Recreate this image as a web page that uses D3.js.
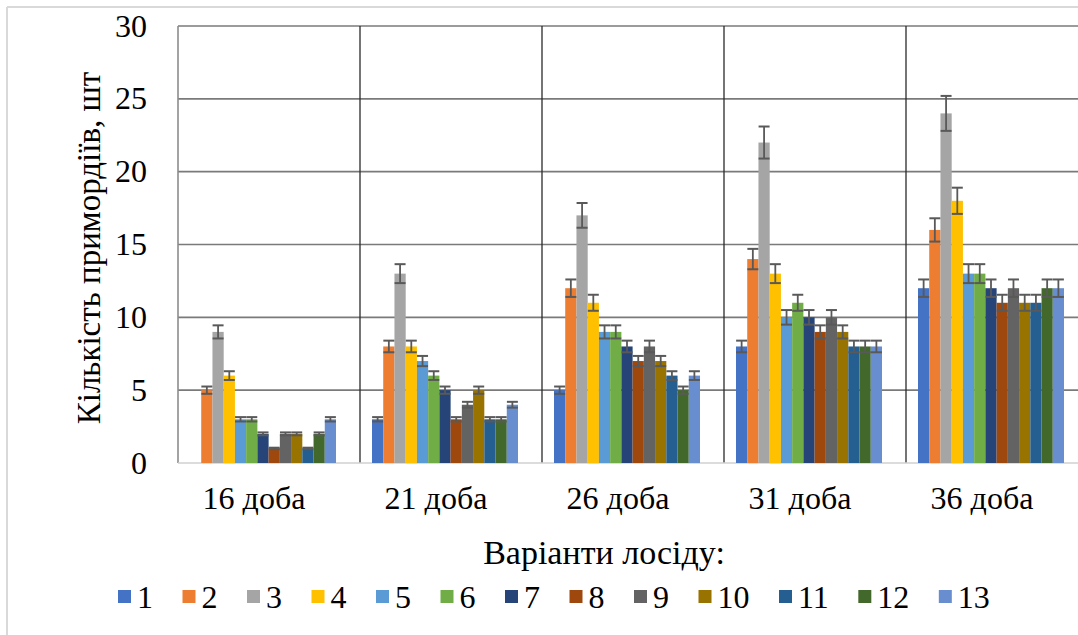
<!DOCTYPE html>
<html>
<head>
<meta charset="utf-8">
<script src="https://cdn.jsdelivr.net/npm/d3@7"></script>
<style>
  html, body { margin: 0; padding: 0; background: #fff; }
  svg { display: block; }
</style>
</head>
<body>
<svg id="chart" width="1078" height="635"></svg>
<script>
// ---- data ----
const categories = ["16 доба", "21 доба", "26 доба", "31 доба", "36 доба"];
const seriesNames = ["1","2","3","4","5","6","7","8","9","10","11","12","13"];
const v1  = [0, 3, 5, 8, 12];
const v2  = [5, 8, 12, 14, 16];
const v3  = [9, 13, 17, 22, 24];
const v4  = [6, 8, 11, 13, 18];
const v5  = [3, 7, 9, 10, 13];
const v6  = [3, 6, 9, 11, 13];
const v7  = [2, 5, 8, 10, 12];
const v8  = [1, 3, 7, 9, 11];
const v9  = [2, 4, 8, 10, 12];
const v10 = [2, 5, 7, 9, 11];
const v11 = [1, 3, 6, 8, 11];
const v12 = [2, 3, 5, 8, 12];
const v13 = [3, 4, 6, 8, 12];
const seriesValues = [v1, v2, v3, v4, v5, v6, v7, v8, v9, v10, v11, v12, v13];
const yTicks = [0, 5, 10, 15, 20, 25, 30];
const errorPercent = 5; // error bars: percentage of value
const colors = ["#4472C4","#ED7D31","#A5A5A5","#FFC000","#5B9BD5","#70AD47",
                "#264478","#9E480E","#636363","#997300","#255E91","#43682B","#698ED0"];
const yTitle = "Кількість примордіїв, шт";
const legendTitle = "Варіанти лосіду:";

// ---- layout ----
const svg = d3.select("#chart");
const plot = { left: 178, right: 1088, top: 26, bottom: 463 };

// outer frame (light)
svg.append("line").attr("x1", 7).attr("x2", 1078).attr("y1", 7).attr("y2", 7)
  .attr("stroke", "#d9d9d9").attr("stroke-width", 2);
svg.append("line").attr("x1", 7).attr("x2", 7).attr("y1", 7).attr("y2", 635)
  .attr("stroke", "#d9d9d9").attr("stroke-width", 2);

const x0 = d3.scaleBand().domain(categories).range([plot.left, plot.right]).padding(0);
const x1 = d3.scaleBand().domain(seriesNames).range([12, 158]).padding(0);
const y = d3.scaleLinear().domain([0, 30]).range([plot.bottom, plot.top]);

// horizontal gridlines
svg.append("g").selectAll("line").data(yTicks.filter(t => t > 0)).join("line")
  .attr("x1", plot.left).attr("x2", plot.right)
  .attr("y1", d => y(d)).attr("y2", d => y(d))
  .attr("stroke", "#7a7a7a").attr("stroke-width", 1.6);

// vertical category gridlines
const bounds = categories.slice(1).map(c => x0(c)).concat([plot.right]);
svg.append("g").selectAll("line").data(bounds).join("line")
  .attr("x1", d => d).attr("x2", d => d)
  .attr("y1", plot.top).attr("y2", plot.bottom)
  .attr("stroke", "#2a2a2a").attr("stroke-width", 1.3);

// left axis line
svg.append("line").attr("x1", plot.left).attr("x2", plot.left)
  .attr("y1", plot.top).attr("y2", plot.bottom)
  .attr("stroke", "#8c8c8c").attr("stroke-width", 1.6);
// bottom axis line
svg.append("line").attr("x1", plot.left).attr("x2", plot.right)
  .attr("y1", plot.bottom).attr("y2", plot.bottom)
  .attr("stroke", "#d0d0d0").attr("stroke-width", 1.6);

// bars
const groups = svg.append("g").selectAll("g").data(categories).join("g")
  .attr("transform", c => `translate(${x0(c)},0)`);

const barData = (c, ci) => seriesNames.map((s, si) => ({ s, si, v: seriesValues[si][ci] }));

groups.each(function (c, ci) {
  const g = d3.select(this);
  const data = barData(c, ci);
  g.selectAll("rect").data(data).join("rect")
    .attr("x", d => x1(d.s))
    .attr("width", x1.bandwidth())
    .attr("y", d => y(d.v))
    .attr("height", d => y(0) - y(d.v))
    .attr("fill", d => colors[d.si]);

  const eb = g.selectAll("g.err").data(data.filter(d => d.v > 0)).join("g").attr("class", "err");
  const cx = d => x1(d.s) + x1.bandwidth() / 2;
  const lo = d => y(d.v * (1 - errorPercent / 100));
  const hi = d => y(d.v * (1 + errorPercent / 100));
  const cap = 5.5;
  eb.append("line").attr("x1", cx).attr("x2", cx).attr("y1", lo).attr("y2", hi)
    .attr("stroke", "#595959").attr("stroke-width", 1.8);
  eb.append("line").attr("x1", d => cx(d) - cap).attr("x2", d => cx(d) + cap)
    .attr("y1", lo).attr("y2", lo).attr("stroke", "#595959").attr("stroke-width", 2);
  eb.append("line").attr("x1", d => cx(d) - cap).attr("x2", d => cx(d) + cap)
    .attr("y1", hi).attr("y2", hi).attr("stroke", "#595959").attr("stroke-width", 2);
});

const FONT = "Tinos, 'Times New Roman', Times, 'Liberation Serif', 'Noto Serif', 'DejaVu Serif', FreeSerif, serif";

// y tick labels
svg.append("g").selectAll("text").data(yTicks).join("text")
  .attr("x", 147).attr("y", d => y(d)).attr("dy", "0.33em")
  .attr("text-anchor", "end").attr("font-size", 32).attr("font-family", FONT)
  .attr("fill", "#000")
  .text(d => d);

// category labels
svg.append("g").selectAll("text").data(categories).join("text")
  .attr("x", c => x0(c) + 76).attr("y", 509)
  .attr("text-anchor", "middle").attr("font-size", 32).attr("font-family", FONT)
  .attr("fill", "#000")
  .text(c => c);

// y title
svg.append("text")
  .attr("transform", "translate(100,248) rotate(-90)")
  .attr("text-anchor", "middle").attr("font-size", 33).attr("font-family", FONT)
  .attr("fill", "#000")
  .text(yTitle);

// legend title
svg.append("text").attr("x", 604).attr("y", 564)
  .attr("text-anchor", "middle").attr("font-size", 34).attr("font-family", FONT)
  .attr("fill", "#000")
  .text(legendTitle);

// legend items
const legend = svg.append("g").attr("transform", "translate(118,0)");
let lx = 0;
seriesNames.forEach((s, i) => {
  const item = legend.append("g").attr("transform", `translate(${lx},0)`);
  item.append("rect").attr("x", 0).attr("y", 590).attr("width", 13).attr("height", 13)
    .attr("fill", colors[i]);
  const t = item.append("text").attr("x", 19).attr("y", 608).attr("font-size", 32)
    .attr("font-family", FONT).attr("fill", "#000").text(s);
  lx += 19 + t.node().getComputedTextLength() + 29.5;
});
</script>
</body>
</html>
